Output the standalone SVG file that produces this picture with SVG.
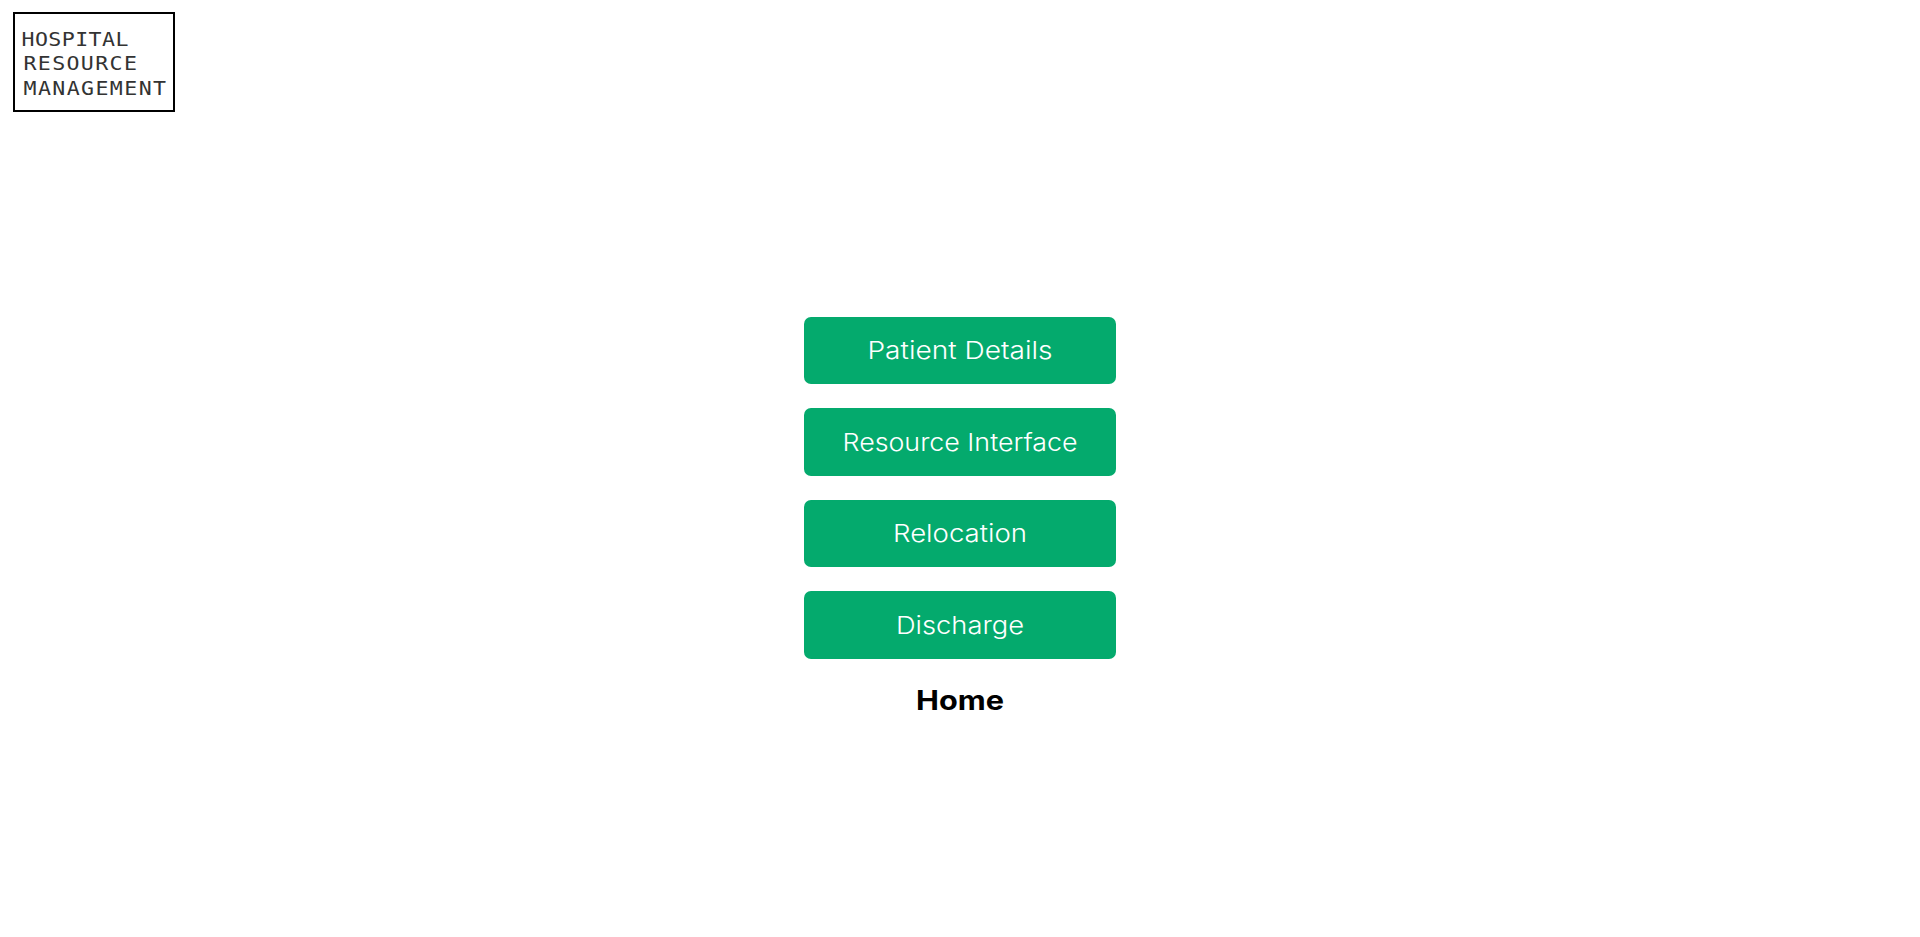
<svg xmlns="http://www.w3.org/2000/svg" width="1920" height="937" viewBox="0 0 1920 937">
<style>
.btn{fill:#04aa6d}
.lbl{font-family:"Inter","Liberation Sans",sans-serif;font-size:24px;fill:#fff;font-weight:300}
.logo{font-family:"DejaVu Sans Mono","Liberation Mono",monospace;font-size:20px;fill:#333}
.home{font-family:"Inter","Liberation Sans",sans-serif;font-size:27px;font-weight:700;fill:#000}
</style>
<rect width="1920" height="937" fill="#fff"/>
<g id="logo">
<rect x="14" y="13" width="160" height="98" fill="#fff" stroke="#000" stroke-width="2"/>
<text class="logo" transform="translate(21.5 46) scale(1.08 1)" x="0" y="0" textLength="99" lengthAdjust="spacing">HOSPITAL</text>
<text class="logo" transform="translate(23.5 70) scale(1.08 1)" x="0" y="0" textLength="105" lengthAdjust="spacing">RESOURCE</text>
<text class="logo" transform="translate(23.5 95) scale(1.08 1)" x="0" y="0" textLength="132" lengthAdjust="spacing">MANAGEMENT</text>
</g>
<g id="connectors"></g>
<g id="node-patient-details">
<rect class="btn" x="804" y="317" width="312" height="67" rx="7"/>
<text class="lbl" x="867.5" y="359" textLength="185" lengthAdjust="spacingAndGlyphs">Patient Details</text>
</g>
<g id="node-resource-interface">
<rect class="btn" x="804" y="408" width="312" height="68" rx="7"/>
<text class="lbl" x="842.5" y="451" textLength="235" lengthAdjust="spacingAndGlyphs">Resource Interface</text>
</g>
<g id="node-relocation">
<rect class="btn" x="804" y="500" width="312" height="67" rx="7"/>
<text class="lbl" x="893" y="542" textLength="134" lengthAdjust="spacingAndGlyphs">Relocation</text>
</g>
<g id="node-discharge">
<rect class="btn" x="804" y="591" width="312" height="68" rx="7"/>
<text class="lbl" x="896" y="634" textLength="128" lengthAdjust="spacingAndGlyphs">Discharge</text>
</g>
<g id="node-home">
<text class="home" x="916" y="710" textLength="88" lengthAdjust="spacingAndGlyphs">Home</text>
</g>
</svg>
